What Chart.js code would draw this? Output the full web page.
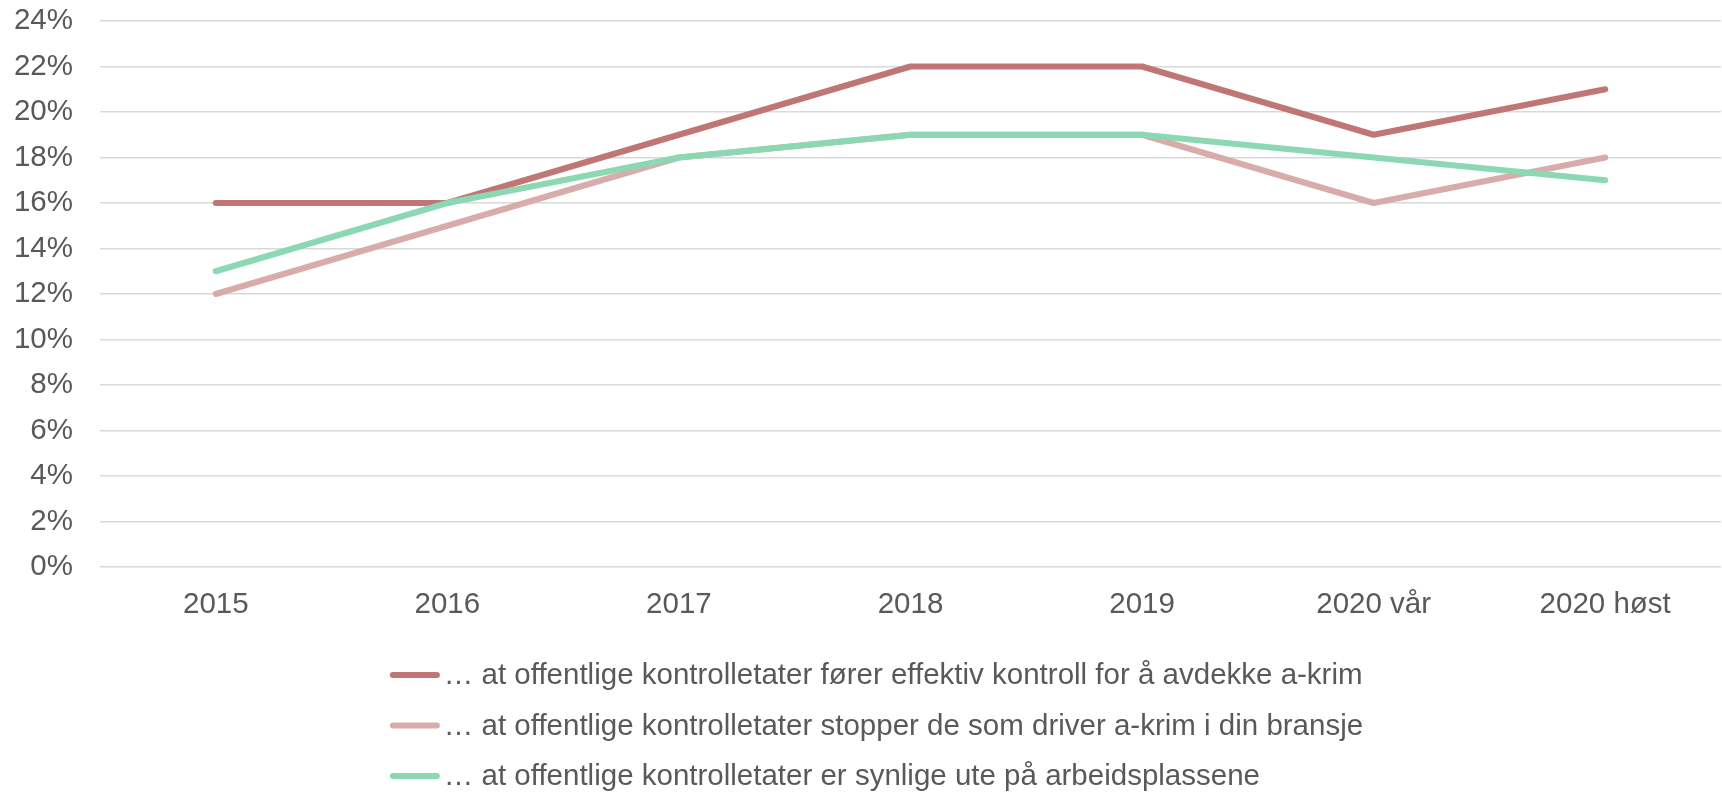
<!DOCTYPE html>
<html>
<head>
<meta charset="utf-8">
<script src="https://cdn.jsdelivr.net/npm/chart.js@4"></script>
<style>
  html, body { margin: 0; padding: 0; background: #fff; }
  #wrap { width: 1722px; height: 792px; position: relative; }
</style>
</head>
<body>
<div id="wrap"><canvas id="lineChart"></canvas></div>
<script>
const categories = ['2015', '2016', '2017', '2018', '2019', '2020 vår', '2020 høst'];
const effektivKontroll = [16, 16, 19, 22, 22, 19, 21];
const stopperAkrim = [12, 15, 18, 19, 19, 16, 18];
const synligeUte = [13, 16, 18, 19, 19, 18, 17];
const seriesLabels = [
  '… at offentlige kontrolletater fører effektiv kontroll for å avdekke a-krim',
  '… at offentlige kontrolletater stopper de som driver a-krim i din bransje',
  '… at offentlige kontrolletater er synlige ute på arbeidsplassene',
];
const seriesColors = ['#c07675', '#d9acac', '#8cd8b2'];

const FONT = '"Liberation Sans", Arial, sans-serif';
const TEXT = '#595959';
const FONT_SIZE = 29.5;

// legend drawn by hand so the rows line up on the left like the original
const stackedLegend = {
  id: 'stackedLegend',
  afterDraw(chart) {
    const ctx = chart.ctx;
    const sets = chart.data.datasets;
    ctx.save();
    ctx.font = FONT_SIZE + 'px ' + FONT;
    const lineLen = 50;
    const widths = sets.map((ds) => ctx.measureText(ds.label).width);
    const blockW = lineLen + 5 + Math.max(...widths);
    const left = chart.width / 2 + 16 - blockW / 2;
    sets.forEach((ds, i) => {
      const y = chart.chartArea.bottom + 108 + i * 50.5;
      ctx.strokeStyle = ds.borderColor;
      ctx.lineWidth = 6;
      ctx.lineCap = 'round';
      ctx.beginPath();
      ctx.moveTo(left + 3, y);
      ctx.lineTo(left + lineLen - 3, y);
      ctx.stroke();
      ctx.fillStyle = TEXT;
      ctx.textBaseline = 'middle';
      ctx.textAlign = 'left';
      ctx.fillText(ds.label, left + lineLen + 4, y + 1);
    });
    ctx.restore();
  },
};

const makeSet = (label, data, color, order) => ({
  label,
  data,
  borderColor: color,
  backgroundColor: color,
  borderWidth: 6,
  borderCapStyle: 'round',
  borderJoinStyle: 'round',
  pointRadius: 0,
  pointHoverRadius: 0,
  tension: 0,
  order,
});

new Chart(document.getElementById('lineChart'), {
  type: 'line',
  data: {
    labels: categories,
    datasets: [
      makeSet(seriesLabels[0], effektivKontroll, seriesColors[0], 1),
      makeSet(seriesLabels[1], stopperAkrim, seriesColors[1], 2),
      makeSet(seriesLabels[2], synligeUte, seriesColors[2], 0),
    ],
  },
  options: {
    responsive: true,
    maintainAspectRatio: false,
    animation: false,
    layout: {
      padding: { top: 0, right: 1, bottom: 165, left: 0 },
    },
    plugins: {
      legend: { display: false },
      tooltip: { enabled: false },
    },
    scales: {
      x: {
        offset: true,
        grid: { display: false, drawTicks: false },
        border: { display: false },
        ticks: {
          color: TEXT,
          font: { family: FONT, size: FONT_SIZE },
          padding: 20,
          maxRotation: 0,
        },
        afterFit: (scale) => { scale.height = 60; },
      },
      y: {
        min: 0,
        max: 24,
        grid: { color: '#d9d9d9', lineWidth: 1.5, drawTicks: false },
        border: { display: false },
        ticks: {
          stepSize: 2,
          color: TEXT,
          font: { family: FONT, size: FONT_SIZE },
          padding: 27,
          callback: (v) => v + '%',
        },
        afterFit: (scale) => { scale.width = 100; scale.paddingTop = 21; },
      },
    },
  },
  plugins: [stackedLegend],
});
</script>
</body>
</html>
